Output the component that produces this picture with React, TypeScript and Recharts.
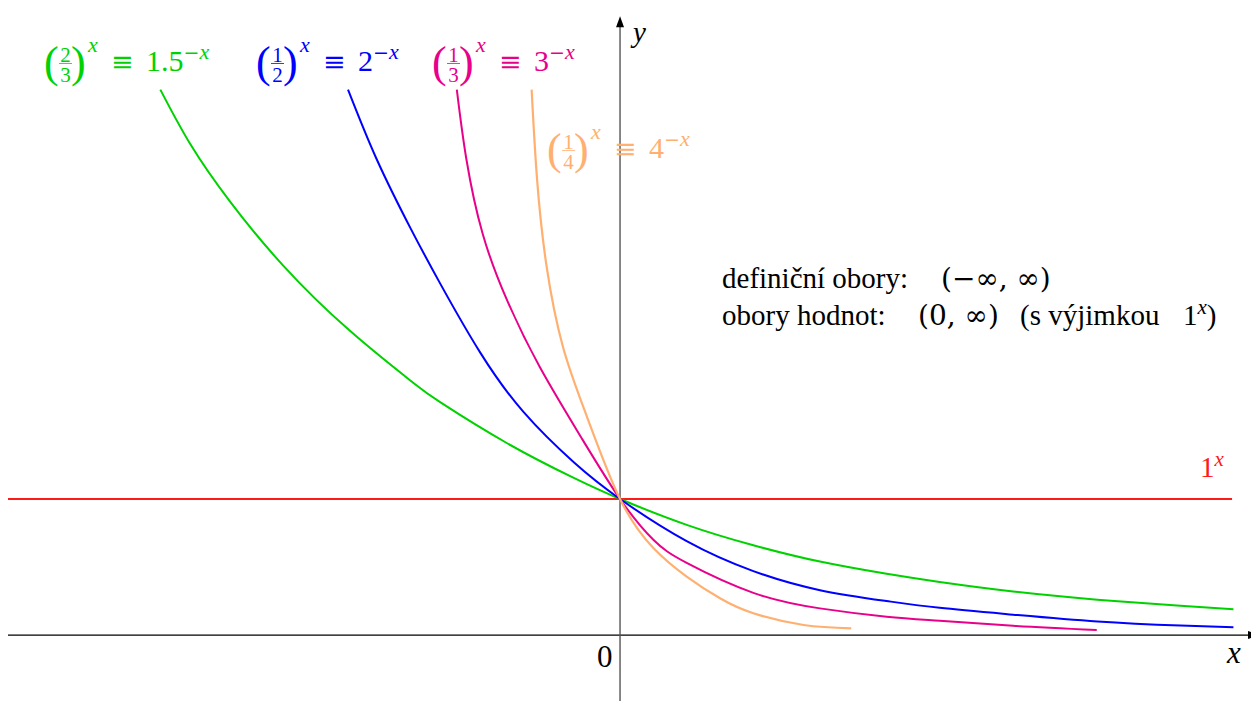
import { LineChart, Line, XAxis, YAxis, ReferenceLine, ReferenceDot } from 'recharts';

// sampled points [x, y] for each curve
const base15Pts = [
  [-3.38, 4.01], [-3.16, 3.61], [-2.87, 3.19], [-2.48, 2.72], [-1.99, 2.24], [-1.54, 1.87],
  [-1.32, 1.71], [-0.83, 1.41], [-0.34, 1.155], [0, 1], [0.49, 0.81], [0.98, 0.66],
  [1.47, 0.54], [1.96, 0.45], [2.35, 0.39], [2.89, 0.32], [3.51, 0.26], [4.12, 0.215], [4.51, 0.19],
];
const base2Pts = [
  [-2.0, 4.01], [-1.79, 3.5], [-1.54, 2.99], [-1.32, 2.58], [-1.03, 2.08], [-0.71, 1.64],
  [-0.34, 1.27], [0, 1], [0.49, 0.69], [0.98, 0.47], [1.47, 0.33], [1.96, 0.25],
  [2.35, 0.2], [2.89, 0.15], [3.51, 0.1], [4.12, 0.07], [4.51, 0.057],
];
const base3Pts = [
  [-1.2, 4.01], [-1.13, 3.5], [-1.01, 2.95], [-0.83, 2.46], [-0.59, 1.97], [-0.29, 1.46],
  [0, 1], [0.245, 0.7], [0.49, 0.53], [0.98, 0.31], [1.47, 0.196], [1.96, 0.135],
  [2.35, 0.105], [2.89, 0.068], [3.505, 0.037],
];
const base4Pts = [
  [-0.65, 4.01], [-0.61, 3.35], [-0.54, 2.71], [-0.42, 2.12], [-0.245, 1.61], [0, 1],
  [0.245, 0.64], [0.49, 0.43], [0.735, 0.27], [0.98, 0.16], [1.35, 0.074], [1.7, 0.049],
];
const base1Pts = [[-4.5, 1], [4.5, 1]];

// label texts
const powerLabels = [
  { num: '2', den: '3', base: '1.5', color: '#00d200', at: [-4.228, 4.147] },
  { num: '1', den: '2', base: '2', color: '#0000ff', at: [-2.669, 4.147] },
  { num: '1', den: '3', base: '3', color: '#e8008a', at: [-1.375, 4.147] },
  { num: '1', den: '4', base: '4', color: '#ffb070', at: [-0.529, 3.507] },
];
const domainText = 'definiční obory:';
const domainValue = '(−∞, ∞)';
const rangeText = 'obory hodnot:';
const rangeValue = '(0, ∞)';
const rangeNote = '(s výjimkou';

const toXY = (pts: number[][]) => pts.map(([x, y]) => ({ x, y }));

const W = 1251;
const H = 693;
const X_MIN = -4.5;
const X_MAX = 4.698;
const Y_MIN = -0.485;
const Y_MAX = 4.61;

const SERIF = { fontFamily: "'Liberation Serif', 'Times New Roman', serif" };
const SYM = { fontFamily: "'DejaVu Serif', serif" };

// (num/den)^x ≡ base^-x, anchored at the left edge of the bracket, on the baseline
function PowerLabel({ cx, cy, num, den, base, color }: any) {
  return (
    <g fill={color} stroke="none" style={SERIF}>
      <text x={cx - 1} y={cy + 6} fontSize={44} style={SERIF}>(</text>
      <text x={cx + 20.5} y={cy - 9} fontSize={21} textAnchor="middle" style={SERIF}>{num}</text>
      <line x1={cx + 14} x2={cx + 27} y1={cy - 7.5} y2={cy - 7.5} stroke={color} strokeWidth={0.8} />
      <text x={cx + 20.5} y={cy + 11} fontSize={21} textAnchor="middle" style={SERIF}>{den}</text>
      <text x={cx + 26} y={cy + 6} fontSize={44} style={SERIF}>)</text>
      <text x={cx + 43} y={cy - 19} fontSize={22} fontStyle="italic" style={SERIF}>x</text>
      <text x={cx + 66} y={cy} fontSize={27} style={SYM}>≡</text>
      <text x={cx + 101} y={cy} fontSize={30} style={SERIF}>
        {base}
        <tspan fontSize={19} dy={-12} style={SYM}>−</tspan>
        <tspan fontSize={22} fontStyle="italic" style={SERIF}>x</tspan>
      </text>
    </g>
  );
}

function InfoBlock({ cx, cy }: any) {
  return (
    <g fill="#000" stroke="none" fontSize={29} style={SERIF}>
      <text x={cx} y={cy} style={SERIF}>{domainText}</text>
      <text x={cx + 219} y={cy} fontSize={28} style={SYM}>{domainValue}</text>
      <text x={cx} y={cy + 37} style={SERIF}>{rangeText}</text>
      <text x={cx + 196} y={cy + 37} fontSize={28} style={SYM}>{rangeValue}</text>
      <text x={cx + 298} y={cy + 37} style={SERIF}>{rangeNote}</text>
      <text x={cx + 461} y={cy + 37} style={SERIF}>
        1<tspan fontSize={21} dy={-11} fontStyle="italic">x</tspan>
        <tspan dy={11}>)</tspan>
      </text>
    </g>
  );
}

const curve = { type: 'natural' as const, strokeWidth: 2, dot: false, activeDot: false, isAnimationActive: false };

export default function App() {
  return (
    <div style={{ width: W, height: H, background: '#fff' }}>
      <LineChart width={W} height={H} margin={{ top: 0, right: 0, bottom: 0, left: 0 }}>
        <XAxis type="number" dataKey="x" domain={[X_MIN, X_MAX]} allowDataOverflow hide />
        <YAxis type="number" dataKey="y" domain={[Y_MIN, Y_MAX]} allowDataOverflow hide />

        {/* axes with arrow heads */}
        <ReferenceLine y={0} stroke="#000" strokeWidth={1.2} />
        <ReferenceLine segment={[{ x: 0, y: Y_MIN }, { x: 0, y: 4.5 }]} stroke="#555" strokeWidth={1.4} />
        <ReferenceDot
          x={0} y={4.55} ifOverflow="visible"
          shape={({ cx, cy }: any) => (
            <path d={`M${cx},${cy} L${cx - 4},${cy + 11} L${cx + 4},${cy + 11} Z`} fill="#000" />
          )}
        />
        <ReferenceDot
          x={X_MAX} y={0} ifOverflow="visible"
          shape={({ cx, cy }: any) => (
            <path d={`M${cx},${cy} L${cx - 11},${cy - 4} L${cx - 11},${cy + 4} Z`} fill="#000" />
          )}
        />

        <Line data={toXY(base1Pts)} dataKey="y" {...curve} type="linear" stroke="#ff1a1a" />
        <Line data={toXY(base15Pts)} dataKey="y" {...curve} stroke="#00d200" />
        <Line data={toXY(base2Pts)} dataKey="y" {...curve} stroke="#0000ff" />
        <Line data={toXY(base3Pts)} dataKey="y" {...curve} stroke="#e8008a" />
        <Line data={toXY(base4Pts)} dataKey="y" {...curve} stroke="#ffb070" strokeWidth={2.2} />

        {powerLabels.map((l) => (
          <ReferenceDot
            key={l.base}
            x={l.at[0]} y={l.at[1]} ifOverflow="visible"
            shape={(p: any) => <PowerLabel cx={p.cx} cy={p.cy} num={l.num} den={l.den} base={l.base} color={l.color} />}
          />
        ))}

        <ReferenceDot
          x={4.265} y={1.162} ifOverflow="visible"
          shape={({ cx, cy }: any) => (
            <text x={cx} y={cy} fill="#ff1a1a" stroke="none" fontSize={29} style={SERIF}>
              1<tspan fontSize={21} dy={-11} fontStyle="italic">x</tspan>
            </text>
          )}
        />
        <ReferenceDot
          x={0.0956} y={4.36} ifOverflow="visible"
          shape={({ cx, cy }: any) => (
            <text x={cx} y={cy} fill="#000" stroke="none" fontSize={29} fontStyle="italic" style={SERIF}>y</text>
          )}
        />
        <ReferenceDot
          x={4.463} y={-0.206} ifOverflow="visible"
          shape={({ cx, cy }: any) => (
            <text x={cx} y={cy} fill="#000" stroke="none" fontSize={31} fontStyle="italic" style={SERIF}>x</text>
          )}
        />
        <ReferenceDot
          x={-0.169} y={-0.235} ifOverflow="visible"
          shape={({ cx, cy }: any) => (
            <text x={cx} y={cy} fill="#000" stroke="none" fontSize={31} style={SERIF}>0</text>
          )}
        />
        <ReferenceDot x={0.75} y={2.551} ifOverflow="visible" shape={(p: any) => <InfoBlock cx={p.cx} cy={p.cy} />} />
      </LineChart>
    </div>
  );
}
